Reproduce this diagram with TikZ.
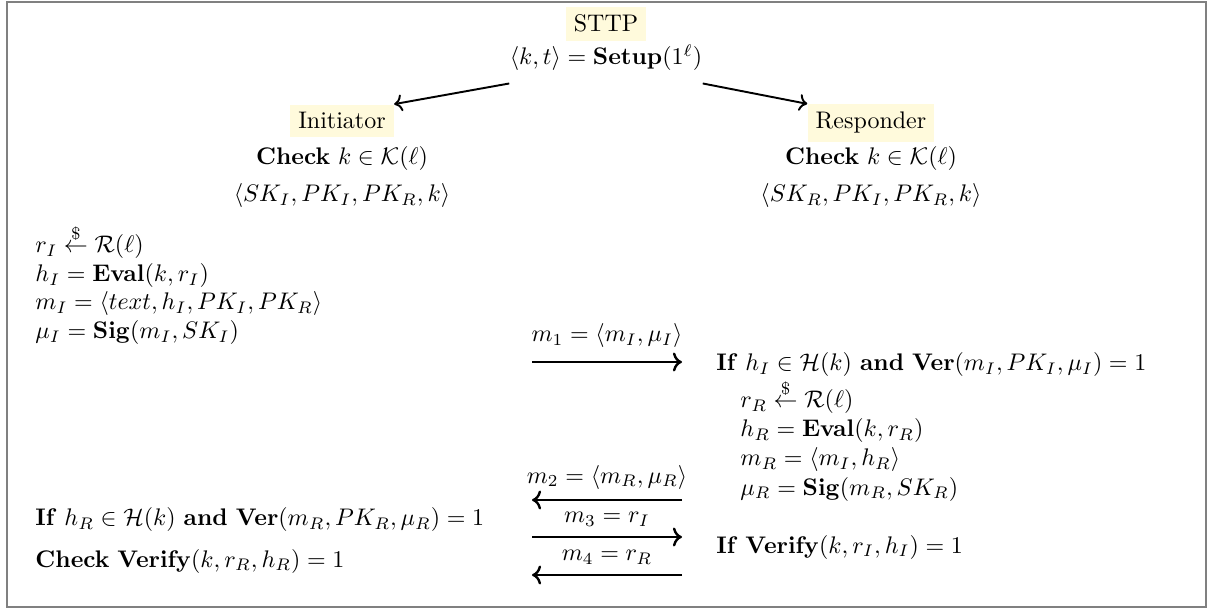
\documentclass[tikz,border=0pt]{standalone}
\usepackage{amsmath}
\usetikzlibrary{positioning,arrows.meta,calc}
\definecolor{partybg}{HTML}{FFFADC}

\begin{document}
\begin{tikzpicture}[
    x=0.4167pt, y=-0.4167pt,
    >=To,
    party/.style={
        fill=partybg,
        anchor=base
    },
    stmt/.style={
        anchor=base,
        inner sep=0pt
    },
    eqline/.style={
        anchor=base west,
        inner sep=0pt
    },
    msg/.style={
        ->,
        line width=1pt
    },
    msglabel/.style={
        midway,
        above,
        inner sep=4pt
    },
    setuparrow/.style={
        ->,
        line width=0.8pt
    },
    outer/.style={
        draw=gray,
        line width=0.8pt
    }
]
\useasboundingbox (0,0) rectangle (1227,609);
\draw[outer] (7,2) rectangle (1206,607);

% Trusted third party
\node[party] (sttp) at (606,32) {STTP};
\node[stmt] (setup) at (606,65) {$\langle k,t\rangle = \mathbf{Setup}(1^{\ell})$};

% Parties
\node[party] (init) at (342,129) {Initiator};
\node[stmt] (initchk) at (342,165) {\textbf{Check} $k \in \mathcal{K}(\ell)$};
\node[stmt] (initkeys) at (342,202) {$\langle SK_I, PK_I, PK_R, k\rangle$};

\node[party] (resp) at (871,129) {Responder};
\node[stmt] (respchk) at (871,165) {\textbf{Check} $k \in \mathcal{K}(\ell)$};
\node[stmt] (respkeys) at (871,202) {$\langle SK_R, PK_I, PK_R, k\rangle$};

\draw[setuparrow] ([yshift=-5pt]setup.south west) -- (init.north east);
\draw[setuparrow] ([yshift=-5pt]setup.south east) -- (resp.north west);

% Initiator side
\node[eqline] (ri) at (35,253) {$r_I \overset{\$}{\leftarrow} \mathcal{R}(\ell)$};
\node[eqline] (hi) at (35,282) {$h_I = \mathbf{Eval}(k, r_I)$};
\node[eqline] (mi) at (35,310) {$m_I = \langle text, h_I, PK_I, PK_R\rangle$};
\node[eqline] (mui) at (35,339) {$\mu_I = \mathbf{Sig}(m_I, SK_I)$};
\node[eqline] (chki) at (35,526) {\textbf{If} $h_R \in \mathcal{H}(k)$ \textbf{and} $\mathbf{Ver}(m_R, PK_R, \mu_R) = 1$};
\node[eqline] (vfyi) at (35,567) {\textbf{Check} $\mathbf{Verify}(k, r_R, h_R) = 1$};

% Responder side
\node[eqline] (chkr) at (716,371) {\textbf{If} $h_I \in \mathcal{H}(k)$ \textbf{and} $\mathbf{Ver}(m_I, PK_I, \mu_I) = 1$};
\node[eqline] (rr) at (740,408) {$r_R \overset{\$}{\leftarrow} \mathcal{R}(\ell)$};
\node[eqline] (hr) at (740,437) {$h_R = \mathbf{Eval}(k, r_R)$};
\node[eqline] (mr) at (740,466) {$m_R = \langle m_I, h_R\rangle$};
\node[eqline] (mur) at (740,495) {$\mu_R = \mathbf{Sig}(m_R, SK_R)$};
\node[eqline] (vfyr) at (716,553) {\textbf{If} $\mathbf{Verify}(k, r_I, h_I) = 1$};

% Messages
\coordinate (m1w) at (532,362);
\coordinate (m1e) at (682,362);
\coordinate (m2w) at (532,500);
\coordinate (m2e) at (682,500);
\coordinate (m3w) at (532,537);
\coordinate (m3e) at (682,537);
\coordinate (m4w) at (532,575);
\coordinate (m4e) at (682,575);

\draw[msg] (m1w) -- (m1e) node[msglabel, inner sep=5.5pt] (msg1) {$m_1 = \langle m_I, \mu_I\rangle$};
\draw[msg] (m2e) -- (m2w) node[msglabel] (msg2) {$m_2 = \langle m_R, \mu_R\rangle$};
\draw[msg] (m3w) -- (m3e) node[msglabel] (msg3) {$m_3 = r_I$};
\draw[msg] (m4e) -- (m4w) node[msglabel] (msg4) {$m_4 = r_R$};

\end{tikzpicture}
\end{document}
